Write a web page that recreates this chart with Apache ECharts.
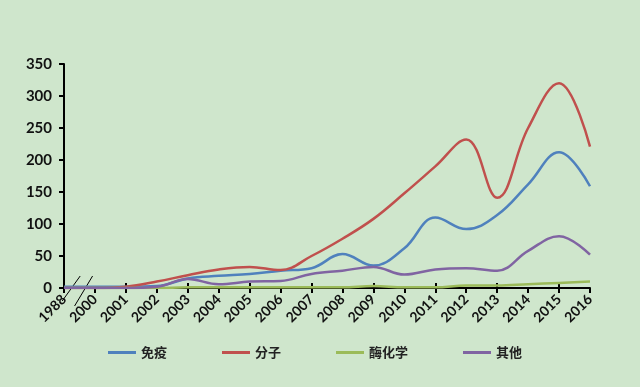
<!DOCTYPE html>
<html><head><meta charset="utf-8">
<script src="https://cdn.jsdelivr.net/npm/echarts@6/dist/echarts.min.js"></script>
<style>html,body{margin:0;padding:0;background:#cfe6cc;}#c{width:640px;height:387px;}</style>
</head><body><div id="c"></div>
<script>
const years = ['1988','2000','2001','2002','2003','2004','2005','2006','2007','2008','2009','2010','2011','2012','2013','2014','2015','2016'];
const immune   = [2, 2, 2, 3, 15, 19, 22, 27, 31, 53, 35, 62, 110, 92, 114, 162, 212, 159];
const molecule = [0, 0, 2, 10, 20, 29, 33, 28, 50, 77, 108, 148, 190, 232, 141, 250, 320, 221];
const enzyme   = [0, 0, 0, 0, 1, 1, 1, 1, 1, 1, 3, 1, 1, 4, 4, 6, 8, 10];
const other    = [0, 0, 0, 2, 14, 6, 10, 11, 22, 27, 33, 21, 29, 31, 27, 58, 81, 52];
const yTicks = [0, 50, 100, 150, 200, 250, 300, 350];

const chart = echarts.init(document.getElementById('c'));
const font = 'Lato, "Noto Sans CJK SC", sans-serif';
const mk = (name, data, color) => ({
  name, type: 'line', data, smooth: 0.4, symbol: 'none',
  lineStyle: {color, width: 2.5}, itemStyle: {color}
});
chart.setOption({
  backgroundColor: '#cfe6cc',
  animation: false,
  grid: {left: 64, right: 50, top: 64, bottom: 99},
  legend: {
    left: 103, top: 341, itemWidth: 28, itemHeight: 3, itemGap: 55,
    icon: 'rect',
    textStyle: {fontFamily: font, fontSize: 13, color: '#222', fontWeight: 'bold'},
    data: ['免疫', '分子', '酶化学', '其他']
  },
  xAxis: [{
    type: 'category', data: years, boundaryGap: false,
    axisLine: {lineStyle: {color: '#000', width: 2}},
    axisTick: {show: true, length: 5, lineStyle: {color: '#000', width: 2}},
    axisLabel: {rotate: 45, fontFamily: font, fontSize: 14, fontWeight: 'bold', color: '#111', margin: 9}
  }, {
    type: 'category', data: years, boundaryGap: false, position: 'bottom',
    axisLine: {show: false},
    axisTick: {show: true, inside: true, length: 5, lineStyle: {color: '#000', width: 2}},
    axisLabel: {show: false}
  }],
  yAxis: {
    type: 'value', min: yTicks[0], max: yTicks[yTicks.length - 1], interval: 50,
    splitLine: {show: false},
    axisLine: {show: true, lineStyle: {color: '#000', width: 2}},
    axisTick: {show: true, length: 5, lineStyle: {color: '#000', width: 2}},
    axisLabel: {fontFamily: font, fontSize: 15, fontWeight: 'bold', color: '#111', margin: 12}
  },
  series: [
    mk('免疫', immune, '#4f81bd'),
    mk('分子', molecule, '#c0504d'),
    mk('酶化学', enzyme, '#9bbb59'),
    mk('其他', other, '#8064a2')
  ]
});
// axis break marks between first two categories
const p0 = chart.convertToPixel({gridIndex: 0}, [0, 0]);
const p1 = chart.convertToPixel({gridIndex: 0}, [1, 0]);
const cx1 = p0[0] + (p1[0] - p0[0]) * 0.2, cx2 = p0[0] + (p1[0] - p0[0]) * 0.6, cy = p0[1];
chart.setOption({graphic: [
  {type: 'line', shape: {x1: cx1 - 8, y1: cy + 13, x2: cx1 + 10, y2: cy - 12}, style: {stroke: '#000', lineWidth: 1}},
  {type: 'line', shape: {x1: cx2 - 8, y1: cy + 18, x2: cx2 + 10, y2: cy - 12}, style: {stroke: '#000', lineWidth: 1}}
]});
</script></body></html>
